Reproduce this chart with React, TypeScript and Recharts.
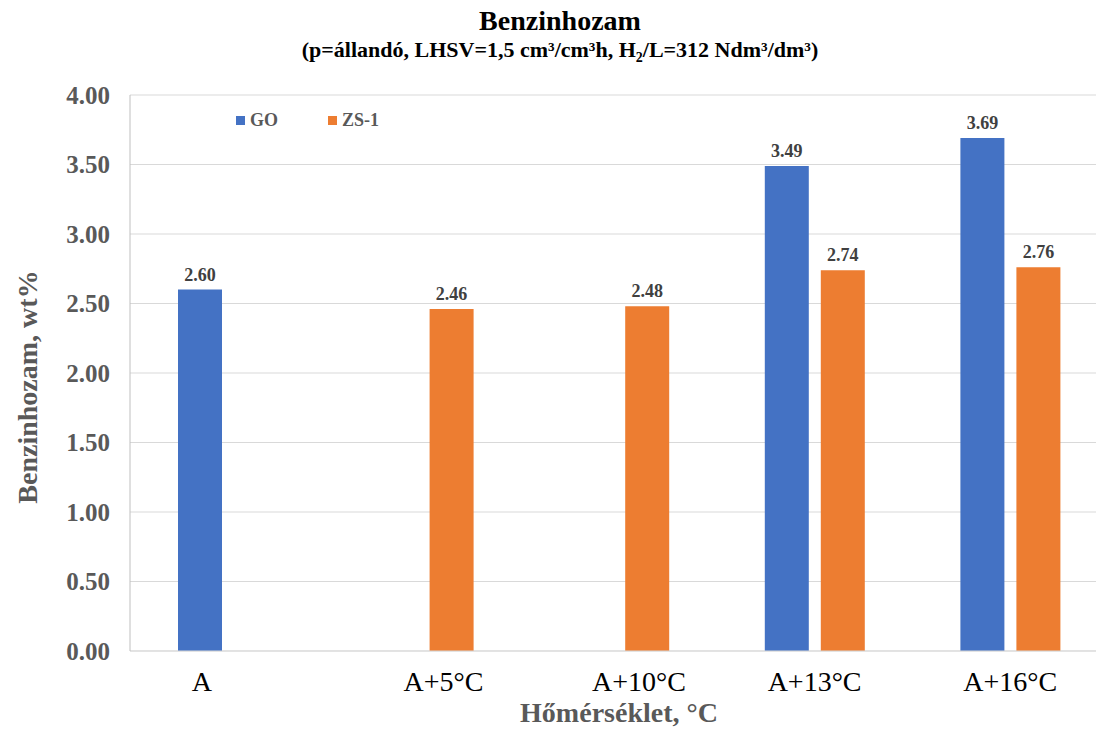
import { BarChart, Bar, XAxis, YAxis, CartesianGrid, Legend, LabelList } from 'recharts';

const categories = ['A', 'A+5°C', 'A+10°C', 'A+13°C', 'A+16°C'];
const goValues: (number | null)[] = [2.6, null, null, 3.49, 3.69];
const zsValues: (number | null)[] = [null, 2.46, 2.48, 2.74, 2.76];
const yTicks = [0, 0.5, 1, 1.5, 2, 2.5, 3, 3.5, 4];

const SERIES = [
  { key: 'GO', name: 'GO', color: '#4472C4' },
  { key: 'ZS', name: 'ZS-1', color: '#ED7D31' },
];

const FONT = "'Liberation Serif', 'Times New Roman', serif";
const GRAY = '#595959';

const data = categories.map((cat, i) => ({ cat, GO: goValues[i], ZS: zsValues[i] }));

function CategoryTick(props: any) {
  const { x, y, payload } = props;
  const i = payload.index;
  // single-bar groups: label sits under the bar that is present
  let shift = 0;
  if (goValues[i] == null && zsValues[i] != null) shift = 20;
  if (zsValues[i] == null && goValues[i] != null) shift = -26;
  return (
    <text x={x + shift} y={y} dy="0.78em" textAnchor="middle" fontFamily={FONT} fontSize={28} fill="#000">
      {payload.value}
    </text>
  );
}

function YTitle(props: any) {
  const { viewBox } = props;
  const cy = viewBox.y + viewBox.height / 2 + 14;
  return (
    <text
      x={27}
      y={cy}
      transform={`rotate(-90, 27, ${cy})`}
      textAnchor="middle"
      dominantBaseline="central"
      fontFamily={FONT}
      fontWeight="bold"
      fontSize={28}
      fill={GRAY}
    >
      Benzinhozam, wt%
    </text>
  );
}

function XTitle(props: any) {
  const { viewBox } = props;
  return (
    <text
      x={viewBox.x + viewBox.width / 2}
      y={722}
      textAnchor="middle"
      fontFamily={FONT}
      fontWeight="bold"
      fontSize={28}
      fill={GRAY}
    >
      Hőmérséklet, °C
    </text>
  );
}

function LegendBox() {
  return (
    <div style={{ display: 'flex', fontFamily: FONT, fontWeight: 'bold', fontSize: 18, color: GRAY }}>
      {SERIES.map((s) => (
        <div key={s.key} style={{ display: 'flex', alignItems: 'center', width: 92 }}>
          <span style={{ width: 9, height: 9, background: s.color, marginRight: 5, display: 'inline-block' }} />
          {s.name}
        </div>
      ))}
    </div>
  );
}

const fmt = (v: any) => (v == null ? '' : Number(v).toFixed(2));

export default function App() {
  return (
    <div
      style={{
        position: 'absolute',
        left: 0,
        top: 0,
        width: 1096,
        height: 730,
        overflow: 'hidden',
        background: '#fff',
      }}
    >
      <div
        style={{
          position: 'absolute',
          left: 0,
          width: 1120,
          top: 5,
          textAlign: 'center',
          fontFamily: FONT,
          fontWeight: 'bold',
          color: '#000',
          zIndex: 2,
        }}
      >
        <div style={{ fontSize: 28, lineHeight: '32px' }}>Benzinhozam</div>
        <div style={{ fontSize: 22, lineHeight: '26px' }}>
          (p=állandó, LHSV=1,5 cm³/cm³h, H<sub style={{ fontSize: 14, lineHeight: 0 }}>2</sub>/L=312 Ndm³/dm³)
        </div>
      </div>
      <BarChart
        width={1112}
        height={730}
        data={data}
        margin={{ top: 95, right: 4, left: 0, bottom: 0 }}
        barSize={44}
        barGap={12}
      >
        <CartesianGrid vertical={false} stroke="#D9D9D9" />
        <XAxis
          dataKey="cat"
          height={58}
          tickLine={false}
          axisLine={{ stroke: '#D9D9D9' }}
          tick={<CategoryTick />}
          tickMargin={12}
          interval={0}
          label={{ content: <XTitle /> }}
        />
        <YAxis
          width={130}
          domain={[0, 4]}
          ticks={yTicks}
          tickFormatter={(v: number) => v.toFixed(2)}
          tickLine={false}
          axisLine={{ stroke: '#BFBFBF' }}
          tickMargin={14}
          tick={{ fontFamily: FONT, fontWeight: 'bold', fontSize: 25, fill: GRAY }}
          label={{ content: <YTitle /> }}
        />
        <Legend
          content={<LegendBox />}
          wrapperStyle={{ position: 'absolute', top: 110, left: 236, width: 'auto', bottom: 'auto' }}
        />
        {SERIES.map((s) => (
          <Bar key={s.key} dataKey={s.key} name={s.name} fill={s.color} isAnimationActive={false}>
            <LabelList
              dataKey={s.key}
              position="top"
              offset={9}
              formatter={fmt}
              style={{ fontFamily: FONT, fontWeight: 'bold', fontSize: 18, fill: '#404040' }}
            />
          </Bar>
        ))}
      </BarChart>
    </div>
  );
}
